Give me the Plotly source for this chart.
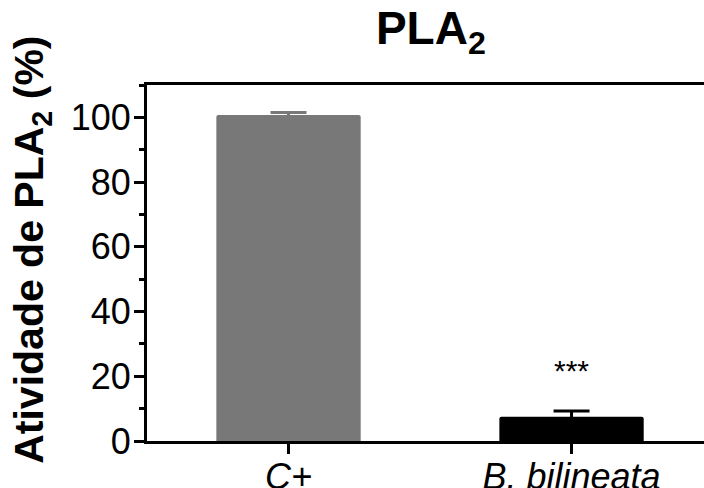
import plotly.graph_objects as go

categories = ["C+", "B. bilineata"]
values = [100.7, 7.5]
errors = [0.8, 1.8]
colors = ["#787878", "#000000"]
significance = ["", "***"]
y_ticks = [0, 20, 40, 60, 80, 100]

FONT = "Arial, Liberation Sans, sans-serif"

fig = go.Figure()
for cat, v, e, c in zip(categories, values, errors, colors):
    fig.add_trace(go.Bar(
        x=[cat], y=[v], width=0.51,
        marker=dict(color=c, line=dict(width=0), cornerradius=2),
        error_y=dict(type="data", array=[e], visible=True, color=c, thickness=3, width=18),
        showlegend=False,
    ))

for cat, v, e, s in zip(categories, values, errors, significance):
    if s:
        fig.add_annotation(x=cat, y=v + e + 12.5, text=s, showarrow=False,
                           font=dict(family=FONT, size=30, color="black"),
                           xref="x", yref="y", yanchor="middle")

fig.add_annotation(text="<b>Atividade de PLA<sub>2</sub> (%)</b>", textangle=-90,
                   xref="paper", yref="paper", x=-0.2065, y=0.537,
                   xanchor="center", yanchor="middle", showarrow=False,
                   font=dict(family=FONT, size=41, color="black"))

fig.update_layout(
    width=704, height=488,
    margin=dict(l=147, r=0, t=85, b=47, autoexpand=False),
    paper_bgcolor="white", plot_bgcolor="white",
    barmode="overlay",
    title=dict(text="<b>PLA<sub>2</sub></b>", x=0.612, xref="container", xanchor="center",
               y=0.943, yref="container", yanchor="middle", automargin=False,
               font=dict(family=FONT, size=46, color="black")),
    font=dict(family=FONT, color="black"),
)

fig.update_xaxes(
    range=[-0.5, 1.468], showgrid=False, zeroline=False, automargin=False,
    showline=True, linecolor="black", linewidth=3, mirror=True,
    ticks="outside", ticklen=10, tickwidth=3, tickcolor="black",
    ticklabelstandoff=-8,
    tickfont=dict(family=FONT, size=36, color="black", style="italic"),
)
fig.update_yaxes(
    range=[0, 110], showgrid=False, zeroline=False, automargin=False,
    showline=True, linecolor="black", linewidth=3,
    tickvals=y_ticks, ticks="outside", ticklen=10, tickwidth=3, tickcolor="black",
    ticklabelstandoff=-4,
    minor=dict(ticks="outside", ticklen=5, tickwidth=3, tickcolor="black", dtick=10, tick0=10),
    tickfont=dict(family=FONT, size=36, color="black"),
)

fig.write_html("out.html", config={"displayModeBar": False},
               post_script="document.body.style.margin='0';document.body.style.overflow='hidden';")
